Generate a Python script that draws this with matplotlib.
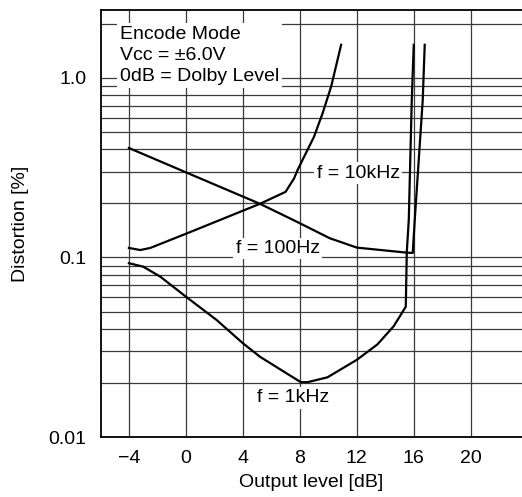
#!/usr/bin/env python3
"""Distortion vs output level, encode mode (datasheet style chart)."""

import matplotlib
matplotlib.use("Agg")
import matplotlib.pyplot as plt
from matplotlib.ticker import FixedLocator, LogLocator, NullFormatter

X_10K = [-4.0, -3.2, -2.5, 0.0, 5.2, 7.0, 7.6, 7.84, 9.0, 9.6, 10.2, 10.9]
Y_10K = [0.113, 0.110, 0.113, 0.1355, 0.199, 0.232, 0.276, 0.307, 0.471,
         0.636, 0.895, 1.53]

X_100 = [-4.0, 0.0, 5.2, 7.8, 10.1, 12.0, 15.5, 15.93, 16.07, 16.63, 16.77]
Y_100 = [0.407, 0.298, 0.199, 0.158, 0.128, 0.1135, 0.1064, 0.106, 0.162,
         0.754, 1.53]

X_1K = [-4.0, -3.0, -1.8, 0.0, 2.15, 4.0, 5.2, 6.7, 8.07, 8.54, 9.94, 12.0,
        13.45, 14.6, 15.44, 15.51, 15.65, 15.86, 16.0]
Y_1K = [0.0929, 0.0889, 0.0782, 0.0605, 0.0449, 0.0333, 0.028, 0.0236,
        0.0202, 0.0202, 0.0215, 0.0269, 0.0328, 0.0415, 0.0532, 0.107,
        0.162, 0.754, 1.53]

X_TICKS = [-4, 0, 4, 8, 12, 16, 20]
X_TICK_LABELS = ["\u22124", "0", "4", "8", "12", "16", "20"]
Y_TICKS = [0.01, 0.1, 1.0]
Y_TICK_LABELS = ["0.01", "0.1", "1.0"]

plt.rcParams["font.family"] = ["Liberation Sans", "DejaVu Sans"]
plt.rcParams["font.size"] = 14

fig = plt.figure(figsize=(5.22, 4.97), dpi=100)
ax = fig.add_axes([0.1935, 0.1207, 0.8065, 0.8592])

grid_kw = dict(color="#3a3a3a", linewidth=0.9, zorder=1)
for c_x, c_y in ((X_10K, Y_10K), (X_100, Y_100), (X_1K, Y_1K)):
    ax.plot(c_x, c_y, color="black", linewidth=1.6, zorder=4,
            solid_joinstyle="round")

ax.set_yscale("log")
ax.set_xlim(-5.96, 23.6)
ax.set_ylim(0.01, 2.39)

ax.xaxis.set_major_locator(FixedLocator(X_TICKS))
ax.set_xticklabels(X_TICK_LABELS)
ax.yaxis.set_major_locator(FixedLocator(Y_TICKS))
ax.set_yticklabels(Y_TICK_LABELS)
ax.yaxis.set_minor_locator(LogLocator(base=10, subs=range(2, 10)))
ax.yaxis.set_minor_formatter(NullFormatter())
ax.tick_params(axis="both", which="both", length=0)
ax.tick_params(axis="x", pad=9.5)
ax.tick_params(axis="y", pad=10.5)

ax.grid(True, which="major", axis="x", **grid_kw)
ax.grid(True, which="both", axis="y", **grid_kw)
ax.set_axisbelow(True)

for side in ("left", "bottom", "top"):
    ax.spines[side].set_linewidth(1.3)
ax.spines["right"].set_visible(False)

ax.set_xlabel("Output level [dB]", labelpad=5)
ax.set_ylabel("Distortion [%]", labelpad=14)

box = dict(boxstyle="square,pad=0.12", facecolor="white", edgecolor="none")
ax.text(-4.65, 1.95, "Encode Mode\nVcc = \u00b16.0V\n0dB = Dolby Level",
        ha="left", va="top", linespacing=1.3, zorder=3,
        bbox=dict(boxstyle="square,pad=0.15", facecolor="white",
                  edgecolor="none"))
ax.text(12.1, 0.295, "f = 10kHz", ha="center", va="center", zorder=3, bbox=box)
ax.text(6.45, 0.112, "f = 100Hz", ha="center", va="center", zorder=3, bbox=box)
ax.text(7.5, 0.0165, "f = 1kHz", ha="center", va="center", zorder=3, bbox=box)

fig.savefig("out.png", dpi=100)
